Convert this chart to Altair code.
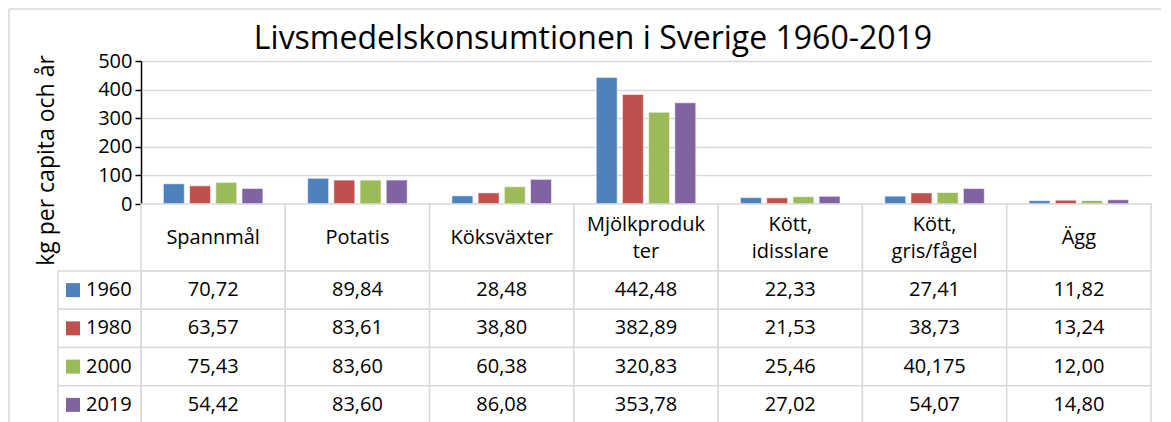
import altair as alt
import pandas as pd

categories = ["Spannmål", "Potatis", "Köksväxter", "Mjölkprodukter",
              "Kött, idisslare", "Kött, gris/fågel", "Ägg"]
header_labels = ["Spannmål", "Potatis", "Köksväxter", "Mjölkproduk\nter",
                 "Kött,\nidisslare", "Kött,\ngris/fågel", "Ägg"]
years = ["1960", "1980", "2000", "2019"]
colors = ["#4F81BD", "#C0504D", "#9BBB59", "#8064A2"]

v1960 = [70.72, 89.84, 28.48, 442.48, 22.33, 27.41, 11.82]
v1980 = [63.57, 83.61, 38.80, 382.89, 21.53, 38.73, 13.24]
v2000 = [75.43, 83.60, 60.38, 320.83, 25.46, 40.175, 12.00]
v2019 = [54.42, 83.60, 86.08, 353.78, 27.02, 54.07, 14.80]
y_ticks = [0, 100, 200, 300, 400, 500]

FONT = "Open Sans"
GRID = "#d9d9d9"


def fmt(v):
    s = f"{v:.3f}".rstrip("0")
    whole, dec = s.split(".")
    dec = dec.ljust(2, "0")
    return f"{whole},{dec}"


rows = []
for yr, vals in zip(years, [v1960, v1980, v2000, v2019]):
    for cat, v in zip(categories, vals):
        rows.append({"kategori": cat, "år": yr, "värde": v, "etikett": fmt(v)})
df = pd.DataFrame(rows)
hdr = pd.DataFrame({"kategori": categories, "rubrik": header_labels})
leg = pd.DataFrame({"år": years})
one = pd.DataFrame({"ram": [1]})

W = 1010
xscale = alt.Scale(domain=categories, paddingInner=0, paddingOuter=0)
cscale = alt.Scale(domain=years, range=colors)

bars = alt.Chart(df).mark_bar(stroke="white", strokeWidth=0.8, strokeOpacity=0.7).encode(
    x=alt.X("kategori:N", sort=categories, scale=xscale, axis=None),
    xOffset=alt.XOffset("år:N", sort=years,
                        scale=alt.Scale(domain=years, paddingInner=0.2, paddingOuter=0.854)),
    y=alt.Y("värde:Q", scale=alt.Scale(domain=[0, 500], nice=False),
            axis=alt.Axis(values=y_ticks, title="kg per capita och år",
                          titleFont=FONT, titleFontSize=23, titleFontWeight="normal",
                          titleColor="black", titleX=-83, titleY=99,
                          titleAlign="center", titleBaseline="bottom",
                          labelFont=FONT, labelFontSize=20, labelColor="black",
                          labelPadding=3, domainColor="black", domainWidth=1.5,
                          tickColor="black", tickSize=6, tickWidth=1.5,
                          gridColor=GRID, gridWidth=1.5)),
    color=alt.Color("år:N", scale=cscale, legend=None),
).properties(
    width=W, height=143,
    title=alt.TitleParams("Livsmedelskonsumtionen i Sverige 1960-2019",
                          font=FONT, fontSize=32, fontWeight="normal",
                          color="black", anchor="middle", offset=-5, dx=-53),
)

head_base = alt.Chart(hdr).encode(
    x=alt.X("kategori:N", sort=categories, scale=xscale, axis=None))
head_text = head_base.mark_text(font=FONT, fontSize=20, lineBreak="\n", lineHeight=27,
                                baseline="middle", color="black")
head = alt.layer(
    head_base.mark_rect(fill="white", stroke=GRID, strokeWidth=1.5),
    head_text.encode(y=alt.value(34), text="rubrik:N").transform_filter(
        "indexof(datum.rubrik, '\\n') < 0"),
    head_text.encode(y=alt.value(20.5), text="rubrik:N").transform_filter(
        "indexof(datum.rubrik, '\\n') >= 0"),
).properties(width=W, height=67)

yscale = alt.Scale(domain=years, paddingInner=0, paddingOuter=0)
tab_base = alt.Chart(df).encode(
    x=alt.X("kategori:N", sort=categories, scale=xscale, axis=None),
    y=alt.Y("år:N", sort=years, scale=yscale, axis=None))
leg_base = alt.Chart(leg).encode(
    y=alt.Y("år:N", sort=years, scale=yscale, axis=None))
frame = alt.Chart(one)
table = alt.layer(
    tab_base.mark_rect(fill="white", stroke=GRID, strokeWidth=1.5),
    tab_base.mark_text(font=FONT, fontSize=20, color="black").encode(text="etikett:N"),
    leg_base.mark_rect(fill="white", stroke=GRID, strokeWidth=1.5).encode(
        x=alt.value(-83), x2=alt.value(0)),
    leg_base.mark_point(shape="square", filled=True, size=196, opacity=1).encode(
        x=alt.value(-68), color=alt.Color("år:N", scale=cscale, legend=None)),
    leg_base.mark_text(font=FONT, fontSize=20, color="black", align="left").encode(
        x=alt.value(-55), text="år:N"),
    # outer chart frame (decoration)
    frame.mark_rule(color=GRID, strokeWidth=1.5).encode(
        x=alt.value(-132), y=alt.value(-262), y2=alt.value(200)),
    frame.mark_rule(color=GRID, strokeWidth=1.5).encode(
        x=alt.value(-132), x2=alt.value(1020), y=alt.value(-262)),
).properties(width=W, height=153)

chart = alt.vconcat(bars, head, table, spacing=0, bounds="flush").properties(
    padding={"left": 0, "top": 0, "right": 0, "bottom": 0}
).configure_view(stroke=None)

chart.save("out.html", embed_options={"renderer": "svg", "actions": False})
